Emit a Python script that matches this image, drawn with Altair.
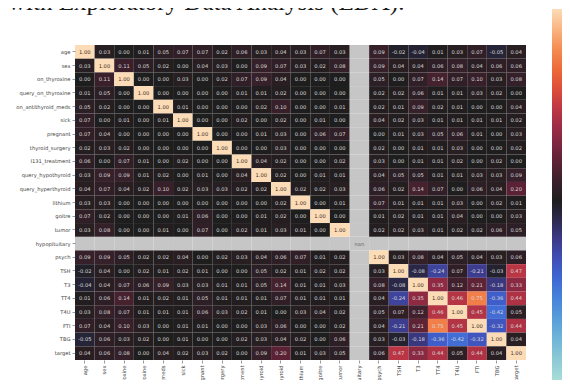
import altair as alt
import pandas as pd

variables = ["age", "sex", "on_thyroxine", "query_on_thyroxine", "on_antithyroid_meds",
             "sick", "pregnant", "thyroid_surgery", "I131_treatment", "query_hypothyroid",
             "query_hyperthyroid", "lithium", "goitre", "tumor", "hypopituitary", "psych",
             "TSH", "T3", "TT4", "T4U", "FTI", "TBG", "target"]

N = None
age = [1.00, 0.03, 0.00, 0.01, 0.05, 0.07, 0.07, 0.02, 0.06, 0.03, 0.04, 0.03, 0.07, 0.03, N, 0.09, -0.02, -0.04, 0.01, 0.03, 0.07, -0.05, 0.04]
sex = [0.03, 1.00, 0.11, 0.05, 0.02, 0.00, 0.04, 0.03, 0.00, 0.09, 0.07, 0.03, 0.02, 0.08, N, 0.09, 0.04, 0.04, 0.06, 0.08, 0.04, 0.06, 0.06]
on_thyroxine = [0.00, 0.11, 1.00, 0.00, 0.00, 0.03, 0.00, 0.02, 0.07, 0.09, 0.04, 0.00, 0.00, 0.00, N, 0.05, 0.00, 0.07, 0.14, 0.07, 0.10, 0.03, 0.08]
query_on_thyroxine = [0.01, 0.05, 0.00, 1.00, 0.00, 0.00, 0.00, 0.00, 0.01, 0.01, 0.02, 0.00, 0.00, 0.00, N, 0.02, 0.02, 0.06, 0.01, 0.01, 0.03, 0.02, 0.00]
on_antithyroid_meds = [0.05, 0.02, 0.00, 0.00, 1.00, 0.01, 0.00, 0.00, 0.00, 0.02, 0.10, 0.00, 0.00, 0.01, N, 0.02, 0.01, 0.09, 0.02, 0.01, 0.00, 0.00, 0.04]
sick = [0.07, 0.00, 0.01, 0.00, 0.01, 1.00, 0.00, 0.00, 0.02, 0.00, 0.02, 0.00, 0.01, 0.00, N, 0.04, 0.02, 0.03, 0.01, 0.01, 0.01, 0.01, 0.02]
pregnant = [0.07, 0.04, 0.00, 0.00, 0.00, 0.00, 1.00, 0.00, 0.00, 0.01, 0.03, 0.00, 0.06, 0.07, N, 0.00, 0.01, 0.03, 0.05, 0.06, 0.01, 0.00, 0.03]
thyroid_surgery = [0.02, 0.03, 0.02, 0.00, 0.00, 0.00, 0.00, 1.00, 0.00, 0.00, 0.03, 0.00, 0.00, 0.00, N, 0.02, 0.00, 0.01, 0.01, 0.03, 0.00, 0.00, 0.02]
I131_treatment = [0.06, 0.00, 0.07, 0.01, 0.00, 0.02, 0.00, 0.00, 1.00, 0.04, 0.02, 0.00, 0.00, 0.02, N, 0.03, 0.00, 0.01, 0.01, 0.02, 0.00, 0.02, 0.00]
query_hypothyroid = [0.03, 0.09, 0.09, 0.01, 0.02, 0.00, 0.01, 0.00, 0.04, 1.00, 0.02, 0.00, 0.01, 0.01, N, 0.04, 0.05, 0.05, 0.01, 0.01, 0.03, 0.03, 0.09]
query_hyperthyroid = [0.04, 0.07, 0.04, 0.02, 0.10, 0.02, 0.03, 0.03, 0.02, 0.02, 1.00, 0.02, 0.02, 0.03, N, 0.06, 0.02, 0.14, 0.07, 0.00, 0.06, 0.04, 0.20]
lithium = [0.03, 0.03, 0.00, 0.00, 0.00, 0.00, 0.00, 0.00, 0.00, 0.00, 0.02, 1.00, 0.00, 0.01, N, 0.07, 0.01, 0.01, 0.01, 0.03, 0.00, 0.02, 0.01]
goitre = [0.07, 0.02, 0.00, 0.00, 0.00, 0.01, 0.06, 0.00, 0.00, 0.01, 0.02, 0.00, 1.00, 0.00, N, 0.01, 0.02, 0.01, 0.01, 0.04, 0.00, 0.00, 0.03]
tumor = [0.03, 0.08, 0.00, 0.00, 0.01, 0.00, 0.07, 0.00, 0.02, 0.01, 0.03, 0.01, 0.00, 1.00, N, 0.02, 0.02, 0.03, 0.01, 0.02, 0.02, 0.06, 0.05]
hypopituitary = [N] * 23
psych = [0.09, 0.09, 0.05, 0.02, 0.02, 0.04, 0.00, 0.02, 0.03, 0.04, 0.06, 0.07, 0.01, 0.02, N, 1.00, 0.03, 0.08, 0.04, 0.05, 0.04, 0.03, 0.06]
TSH = [-0.02, 0.04, 0.00, 0.02, 0.01, 0.02, 0.01, 0.00, 0.00, 0.05, 0.02, 0.01, 0.02, 0.02, N, 0.03, 1.00, -0.08, -0.24, 0.07, -0.21, -0.03, 0.47]
T3 = [-0.04, 0.04, 0.07, 0.06, 0.09, 0.03, 0.03, 0.01, 0.01, 0.05, 0.14, 0.01, 0.01, 0.03, N, 0.08, -0.08, 1.00, 0.35, 0.12, 0.21, -0.18, 0.33]
TT4 = [0.01, 0.06, 0.14, 0.01, 0.02, 0.01, 0.05, 0.01, 0.01, 0.01, 0.07, 0.01, 0.01, 0.01, N, 0.04, -0.24, 0.35, 1.00, 0.46, 0.75, -0.36, 0.44]
T4U = [0.03, 0.08, 0.07, 0.01, 0.01, 0.01, 0.06, 0.03, 0.02, 0.01, 0.00, 0.03, 0.04, 0.02, N, 0.05, 0.07, 0.12, 0.46, 1.00, 0.45, -0.42, 0.05]
FTI = [0.07, 0.04, 0.10, 0.03, 0.00, 0.01, 0.01, 0.00, 0.00, 0.03, 0.06, 0.00, 0.00, 0.02, N, 0.04, -0.21, 0.21, 0.75, 0.45, 1.00, -0.32, 0.44]
TBG = [-0.05, 0.06, 0.03, 0.02, 0.00, 0.01, 0.00, 0.00, 0.02, 0.03, 0.04, 0.02, 0.00, 0.06, N, 0.03, -0.03, -0.18, -0.36, -0.42, -0.32, 1.00, 0.04]
target = [0.04, 0.06, 0.08, 0.00, 0.04, 0.02, 0.03, 0.02, 0.00, 0.09, 0.20, 0.01, 0.03, 0.05, N, 0.06, 0.47, 0.33, 0.44, 0.05, 0.44, 0.04, 1.00]

matrix = [age, sex, on_thyroxine, query_on_thyroxine, on_antithyroid_meds, sick, pregnant,
          thyroid_surgery, I131_treatment, query_hypothyroid, query_hyperthyroid, lithium,
          goitre, tumor, hypopituitary, psych, TSH, T3, TT4, T4U, FTI, TBG, target]

heading = "with Exploratory Data Analysis (EDA)."

# icefire-like colormap stops
cmap_domain = [-1.0, -0.9, -0.8, -0.7, -0.6, -0.5, -0.4, -0.3, -0.2, -0.1, 0.0,
               0.1, 0.2, 0.3, 0.4, 0.5, 0.6, 0.7, 0.8, 0.9, 1.0]
cmap_colors = ["#bde7db", "#a1d8d7", "#86c6d6", "#6db2d8", "#579bda", "#4782da",
               "#3f68d4", "#4050b8", "#3c3b8a", "#2d2b50", "#1f1e1f",
               "#38202a", "#5a2234", "#7e2740", "#a12d45", "#c43a43",
               "#e05238", "#ee6e3a", "#f58f56", "#f9b684", "#fcdcb6"]

records = []
for i, r in enumerate(variables):
    for j, c in enumerate(variables):
        v = matrix[i][j]
        if v is None:
            lab = "nan" if i == j else ""
        else:
            lab = f"{v:.2f}"
        records.append({"row": r, "col": c, "value": v, "label": lab})
df = pd.DataFrame(records)

FONT = "DejaVu Sans"

x_enc = alt.X("col:N", sort=variables, title=None,
              scale=alt.Scale(paddingInner=0, paddingOuter=0),
              axis=alt.Axis(labelAngle=270, labelFontSize=5.2, labelPadding=2, tickSize=3,
                            domain=False, labelColor="#444", tickColor="#555", tickWidth=0.6,
                            labelFont=FONT))
y_enc = alt.Y("row:N", sort=variables, title=None,
              scale=alt.Scale(paddingInner=0, paddingOuter=0),
              axis=alt.Axis(labelFontSize=5.2, labelPadding=2, tickSize=3, domain=False,
                            labelColor="#444", tickColor="#555", tickWidth=0.6, labelFont=FONT))

base = alt.Chart(df)

nan_cells = base.transform_filter("datum.value == null").mark_rect(color="#c6c6c6").encode(
    x=x_enc, y=y_enc)

cells = base.transform_filter("datum.value != null").mark_rect().encode(
    x=x_enc, y=y_enc,
    color=alt.Color("value:Q", title=None,
                    scale=alt.Scale(domain=cmap_domain, range=cmap_colors, interpolate="rgb"),
                    legend=alt.Legend(orient="none", legendX=477, legendY=-36,
                                      gradientLength=385, gradientThickness=22,
                                      labelOpacity=0, labelFontSize=1, labelLimit=1,
                                      direction="vertical", gradientStrokeWidth=0)))

text = base.mark_text(font=FONT, fontSize=5.2).encode(
    x=x_enc, y=y_enc, text="label:N",
    color={"condition": [{"test": "datum.value == null", "value": "#6a6a6a"},
                         {"test": "datum.value > 0.85", "value": "#3a2a22"}],
           "value": "#d9d9d9"})

head = alt.Chart(pd.DataFrame({"t": [heading]})).mark_text(
    align="left", baseline="alphabetic", font="Liberation Serif", fontSize=25, color="#1a1a1a"
).encode(x=alt.value(-67), y=alt.value(-35), text="t:N")

chart = alt.layer(nan_cells, cells, text, head).properties(
    width=451, height=315,
    autosize=alt.AutoSizeParams(type="none"),
    padding={"left": 67, "top": 37, "right": 36, "bottom": 20},
    background="white",
).configure_view(stroke=None)

chart.save("out.html", embed_options={"renderer": "svg", "actions": False})
